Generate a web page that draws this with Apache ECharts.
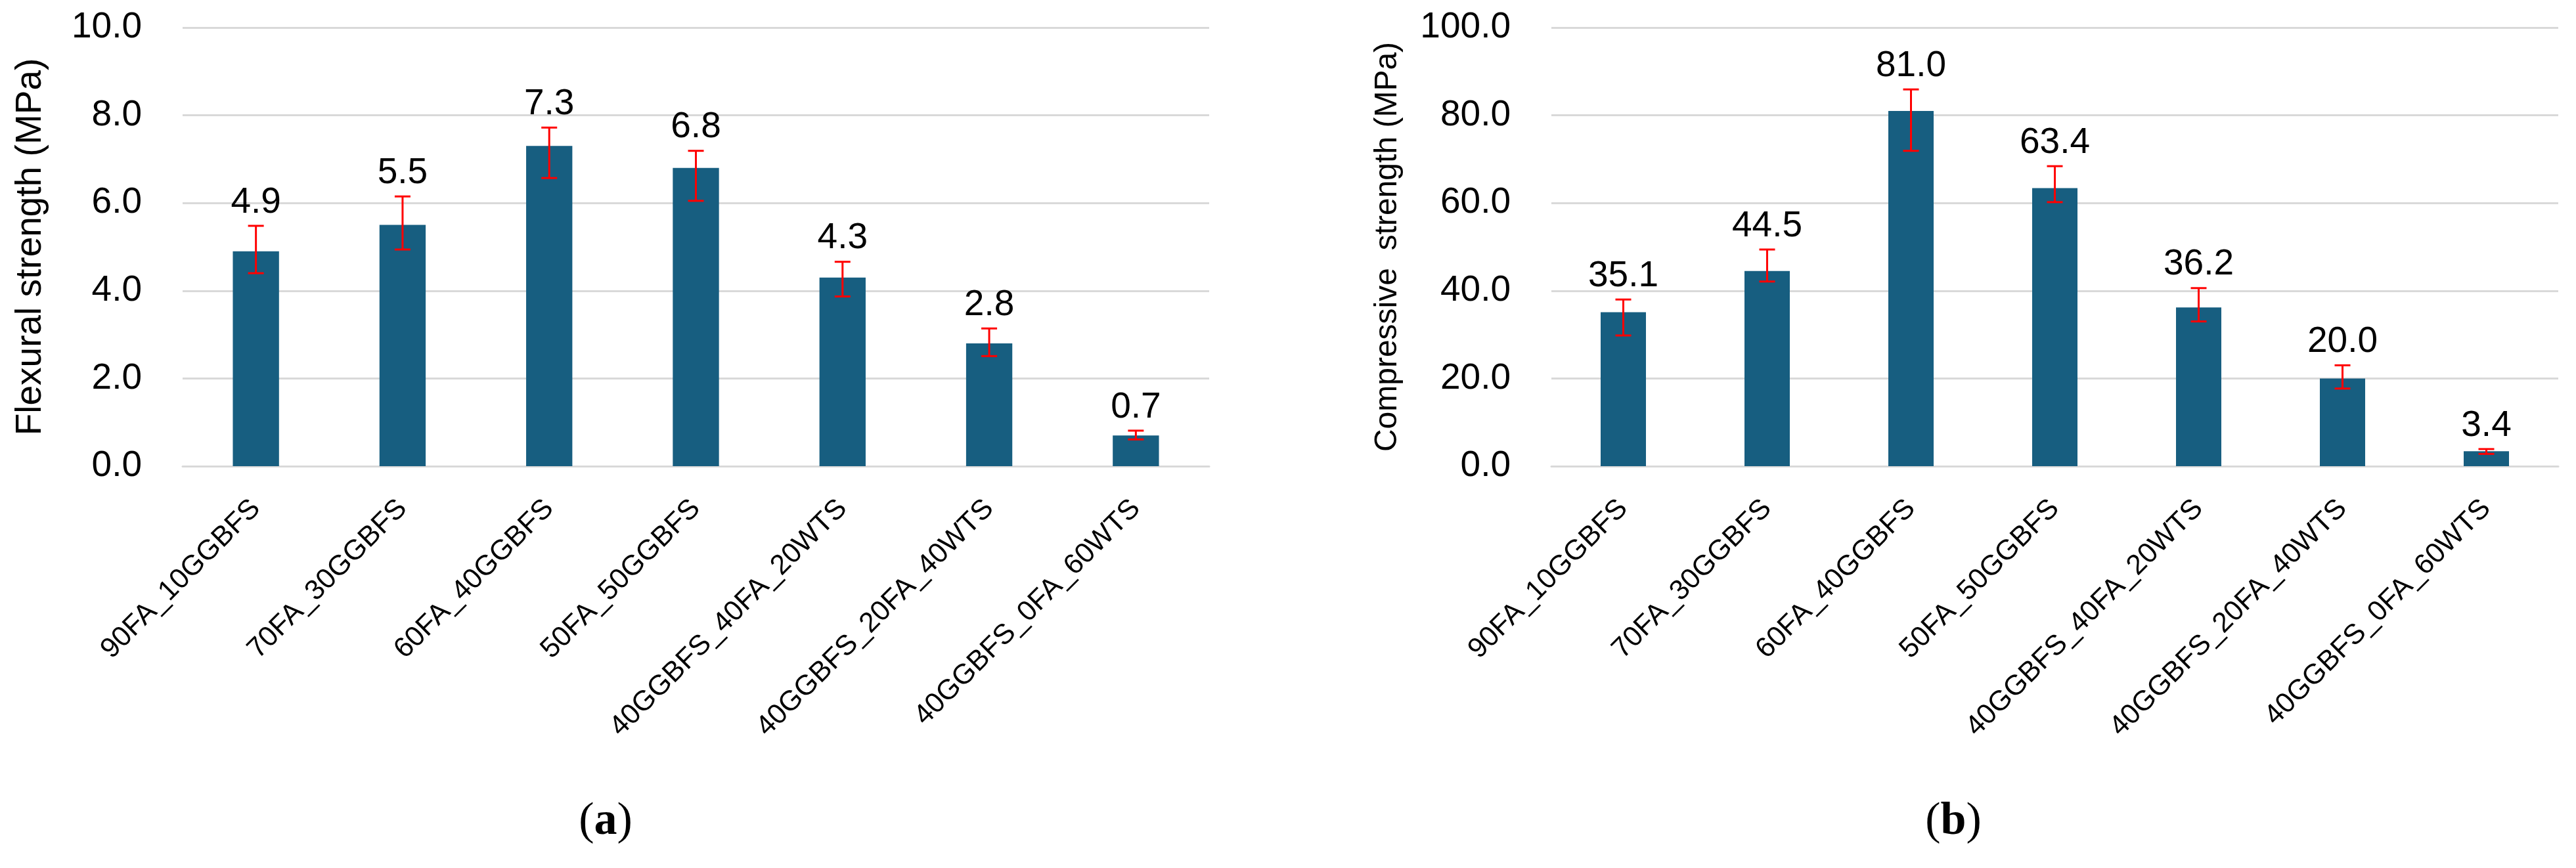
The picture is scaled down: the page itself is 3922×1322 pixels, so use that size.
<!DOCTYPE html>
<html>
<head>
<meta charset="utf-8">
<script src="https://cdn.jsdelivr.net/npm/echarts@6/dist/echarts.min.js"></script>
<style>
  html, body { margin: 0; padding: 0; background: #fff; }
  #chart { width: 3922px; height: 1322px; }
</style>
</head>
<body>
<div id="chart"></div>
<script>
// ---- Data ----
const categories = ['90FA_10GGBFS', '70FA_30GGBFS', '60FA_40GGBFS', '50FA_50GGBFS',
  '40GGBFS_40FA_20WTS', '40GGBFS_20FA_40WTS', '40GGBFS_0FA_60WTS'];

const flexural = [4.9, 5.5, 7.3, 6.8, 4.3, 2.8, 0.7];
const flexuralHigh = [5.48, 6.15, 7.72, 7.19, 4.66, 3.14, 0.81];
const flexuralLow = [4.40, 4.94, 6.57, 6.05, 3.87, 2.51, 0.61];

const compressive = [35.1, 44.5, 81.0, 63.4, 36.2, 20.0, 3.4];
const compressiveHigh = [38.0, 49.4, 85.9, 68.4, 40.6, 23.0, 3.9];
const compressiveLow = [29.8, 42.1, 71.9, 60.2, 33.0, 17.7, 2.8];

const flexTicks = { min: 0, max: 10, interval: 2 };
const compTicks = { min: 0, max: 100, interval: 20 };

// ---- Styles ----
const FONT = "'Liberation Sans', Arial, sans-serif";
const BAR_COLOR = '#175E80';
const GRID_COLOR = '#d9d9d9';

function errData(vals, hi, lo) {
  return vals.map((v, i) => [i, hi[i], lo[i], v]);
}

function renderErr(params, api) {
  const top = api.coord([api.value(0), api.value(1)]);
  const bot = api.coord([api.value(0), api.value(2)]);
  const cw = 12;
  const st = { stroke: '#ff0000', lineWidth: 3 };
  return {
    type: 'group',
    children: [
      { type: 'line', shape: { x1: top[0], y1: top[1], x2: bot[0], y2: bot[1] }, style: st },
      { type: 'line', shape: { x1: top[0] - cw, y1: top[1], x2: top[0] + cw, y2: top[1] }, style: st },
      { type: 'line', shape: { x1: bot[0] - cw, y1: bot[1], x2: bot[0] + cw, y2: bot[1] }, style: st },
      { type: 'text', x: top[0], y: top[1] - 8,
        style: { text: api.value(3).toFixed(1), align: 'center', verticalAlign: 'bottom',
                 fontSize: 55, fontFamily: FONT, fill: '#000' } }
    ]
  };
}

function xAxisCfg(gi) {
  return {
    type: 'category', gridIndex: gi, data: categories,
    axisLine: { show: true, lineStyle: { color: GRID_COLOR, width: 3 } },
    axisTick: { show: false },
    axisLabel: { rotate: 45, fontSize: 43, fontFamily: FONT, color: '#000', margin: 58, interval: 0 }
  };
}

function yAxisCfg(gi, ticks, name, nameGap, nameSize) {
  return {
    type: 'value', gridIndex: gi, min: ticks.min, max: ticks.max, interval: ticks.interval,
    name: name, nameLocation: 'middle', nameGap: nameGap,
    nameTextStyle: { fontSize: nameSize, fontFamily: FONT, color: '#000' },
    axisLine: { show: false }, axisTick: { show: false },
    axisLabel: { fontSize: 55, fontFamily: FONT, color: '#000', margin: 62,
                 formatter: v => v.toFixed(1) },
    splitLine: { show: true, lineStyle: { color: GRID_COLOR, width: 3 } }
  };
}

const chart = echarts.init(document.getElementById('chart'), null, { renderer: 'canvas', devicePixelRatio: 1 });

chart.setOption({
  backgroundColor: '#fff',
  animation: false,
  grid: [
    { left: 278, right: 3922 - 1841, top: 42, bottom: 1322 - 710 },
    { left: 2362, right: 3922 - 3895, top: 42, bottom: 1322 - 710 }
  ],
  xAxis: [xAxisCfg(0), xAxisCfg(1)],
  yAxis: [
    yAxisCfg(0, flexTicks, 'Flexural strength (MPa)', 204, 55),
    yAxisCfg(1, compTicks, 'Compressive  strength (MPa)', 225, 48)
  ],
  series: [
    { type: 'bar', xAxisIndex: 0, yAxisIndex: 0, data: flexural, barWidth: '31.5%',
      itemStyle: { color: BAR_COLOR } },
    { type: 'custom', xAxisIndex: 0, yAxisIndex: 0, renderItem: renderErr,
      data: errData(flexural, flexuralHigh, flexuralLow), encode: { x: 0, y: [1, 2] }, clip: false, z: 5 },
    { type: 'bar', xAxisIndex: 1, yAxisIndex: 1, data: compressive, barWidth: '31.5%',
      itemStyle: { color: BAR_COLOR } },
    { type: 'custom', xAxisIndex: 1, yAxisIndex: 1, renderItem: renderErr,
      data: errData(compressive, compressiveHigh, compressiveLow), encode: { x: 0, y: [1, 2] }, clip: false, z: 5 }
  ],
  graphic: [
    { type: 'text', x: 922, y: 1287,
      style: { text: '{n|(}{b|a}{n|)}', align: 'center', verticalAlign: 'bottom',
               rich: { n: { fontSize: 70, fontFamily: "'Liberation Serif', serif", fill: '#000' },
                       b: { fontSize: 70, fontFamily: "'Liberation Serif', serif", fontWeight: 'bold', fill: '#000' } } } },
    { type: 'text', x: 2974, y: 1287,
      style: { text: '{n|(}{b|b}{n|)}', align: 'center', verticalAlign: 'bottom',
               rich: { n: { fontSize: 70, fontFamily: "'Liberation Serif', serif", fill: '#000' },
                       b: { fontSize: 70, fontFamily: "'Liberation Serif', serif", fontWeight: 'bold', fill: '#000' } } } }
  ]
});
</script>
</body>
</html>
